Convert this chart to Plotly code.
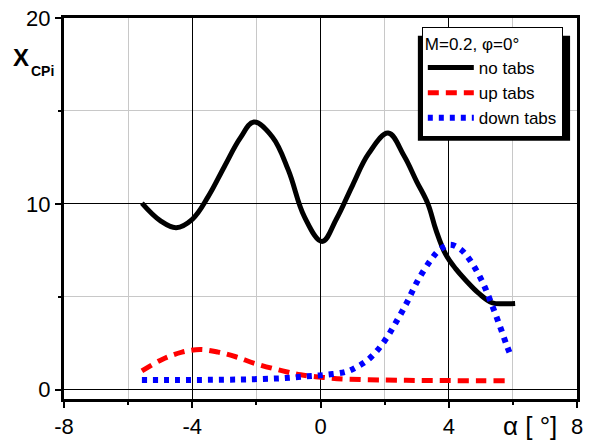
import plotly.graph_objects as go

# ---- data ----
no_tabs_x = [-5.57, -5.0, -4.5, -4.0, -3.5, -3.0, -2.5, -2.08, -1.5, -1.0, -0.5, 0.05,
             0.5, 1.0, 1.5, 2.11, 2.6, 3.0, 3.35, 3.6, 3.9, 4.22, 4.53, 4.94, 5.35, 5.7, 6.07]
no_tabs_y = [10.04, 9.1, 8.72, 9.17, 10.4, 12.0, 13.55, 14.4, 13.6, 11.8, 9.3, 7.98,
             9.2, 11.0, 12.7, 13.81, 12.6, 11.2, 10.0, 8.6, 7.3, 6.5, 5.89, 5.18, 4.68, 4.62, 4.64]

up_tabs_x = [-5.57, -4.94, -4.32, -3.75, -3.19, -2.62, -2.06, -1.18, -0.62, 0.1, 0.82, 2.0, 3.0, 4.0, 5.0, 5.76]
up_tabs_y = [1.01, 1.63, 2.02, 2.16, 2.02, 1.76, 1.42, 1.01, 0.8, 0.66, 0.57, 0.52, 0.5, 0.49, 0.48, 0.48]

down_tabs_x = [-5.57, -4.5, -3.5, -2.5, -1.8, -1.18, -0.51, 0.15, 0.8, 1.13, 1.46, 1.78, 2.06, 2.31,
               2.68, 3.02, 3.43, 3.71, 4.04, 4.37, 4.66, 5.04, 5.32, 5.58, 5.81, 5.94]
down_tabs_y = [0.52, 0.52, 0.53, 0.55, 0.58, 0.62, 0.71, 0.8, 0.97, 1.22, 1.58, 2.13, 2.78, 3.49,
               4.64, 5.83, 6.95, 7.52, 7.8, 7.55, 6.98, 5.83, 4.68, 3.49, 2.38, 1.81]

x_ticks = [-8, -4, 0, 4, 8]
y_ticks = [0, 10, 20]

FONT = "Arial, Liberation Sans, sans-serif"

fig = go.Figure()
fig.add_trace(go.Scatter(x=no_tabs_x, y=no_tabs_y, mode="lines", name="no tabs",
                         line=dict(color="black", width=5, shape="spline", smoothing=1.1)))
fig.add_trace(go.Scatter(x=up_tabs_x, y=up_tabs_y, mode="lines", name="up tabs",
                         line=dict(color="#ff0000", width=5, shape="spline", smoothing=1.0,
                                   dash="11px,7px")))
fig.add_trace(go.Scatter(x=down_tabs_x, y=down_tabs_y, mode="lines", name="down tabs",
                         line=dict(color="#0000ff", width=6, shape="spline", smoothing=1.0,
                                   dash="5px,6px")))

axis_common = dict(
    showline=True, linecolor="black", linewidth=3, mirror=True,
    ticks="outside", ticklen=6, tickwidth=2, tickcolor="black",
    showgrid=True, gridcolor="black", gridwidth=1,
    zeroline=True, zerolinecolor="black", zerolinewidth=1,
    tickfont=dict(family=FONT, size=22, color="black"),
)

fig.update_xaxes(range=[-8, 8], tickmode="array", tickvals=x_ticks,
                 ticktext=[str(v) for v in x_ticks],
                 minor=dict(dtick=2, ticks="outside", ticklen=3, tickwidth=2, tickcolor="black",
                            showgrid=True, gridcolor="#c8c8c8", gridwidth=1),
                 **axis_common)
fig.update_yaxes(range=[-0.5, 20], tickmode="array", tickvals=y_ticks,
                 ticktext=[str(v) for v in y_ticks],
                 minor=dict(dtick=5, tick0=0, ticks="outside", ticklen=3, tickwidth=2, tickcolor="black",
                            showgrid=True, gridcolor="#c8c8c8", gridwidth=1),
                 **axis_common)

W, H = 589, 445
ML, MR, MT, MB = 64, 6, 18, 42
PW, PH = W - ML - MR, H - MT - MB


def px(xp):
    return (xp - ML) / PW


def py(yp):
    return (H - MB - yp) / PH


# legend shadow
fig.add_shape(type="rect", xref="paper", yref="paper",
              x0=px(422), x1=px(576), y0=py(142), y1=py(36),
              fillcolor="black", line=dict(width=0), layer="above")

fig.update_layout(
    width=W, height=H,
    margin=dict(l=ML, r=MR, t=MT, b=MB),
    paper_bgcolor="white", plot_bgcolor="white",
    font=dict(family=FONT, color="black"),
    showlegend=True,
    legend=dict(
        xref="paper", yref="paper",
        x=px(426), y=py(27), xanchor="left", yanchor="top",
        bgcolor="white", bordercolor="black", borderwidth=1,
        font=dict(family=FONT, size=17, color="black"),
        title=dict(text="M=0.2, φ=0°", font=dict(family=FONT, size=17, color="black")),
        tracegroupgap=0, itemwidth=46,
    ),
    annotations=[
        dict(text="<b>X</b>", xref="paper", yref="paper", x=px(21), y=py(58),
             xanchor="center", yanchor="middle", showarrow=False,
             font=dict(family=FONT, size=24, color="black")),
        dict(text="<b>CPi</b>", xref="paper", yref="paper", x=px(42), y=py(72),
             xanchor="center", yanchor="middle", showarrow=False,
             font=dict(family=FONT, size=14, color="black")),
        dict(text="α [ °]", xref="paper", yref="paper", x=px(565), y=py(430),
             xanchor="right", yanchor="middle", showarrow=False,
             font=dict(family=FONT, size=26, color="black")),
    ],
)

fig.write_html("out.html")
